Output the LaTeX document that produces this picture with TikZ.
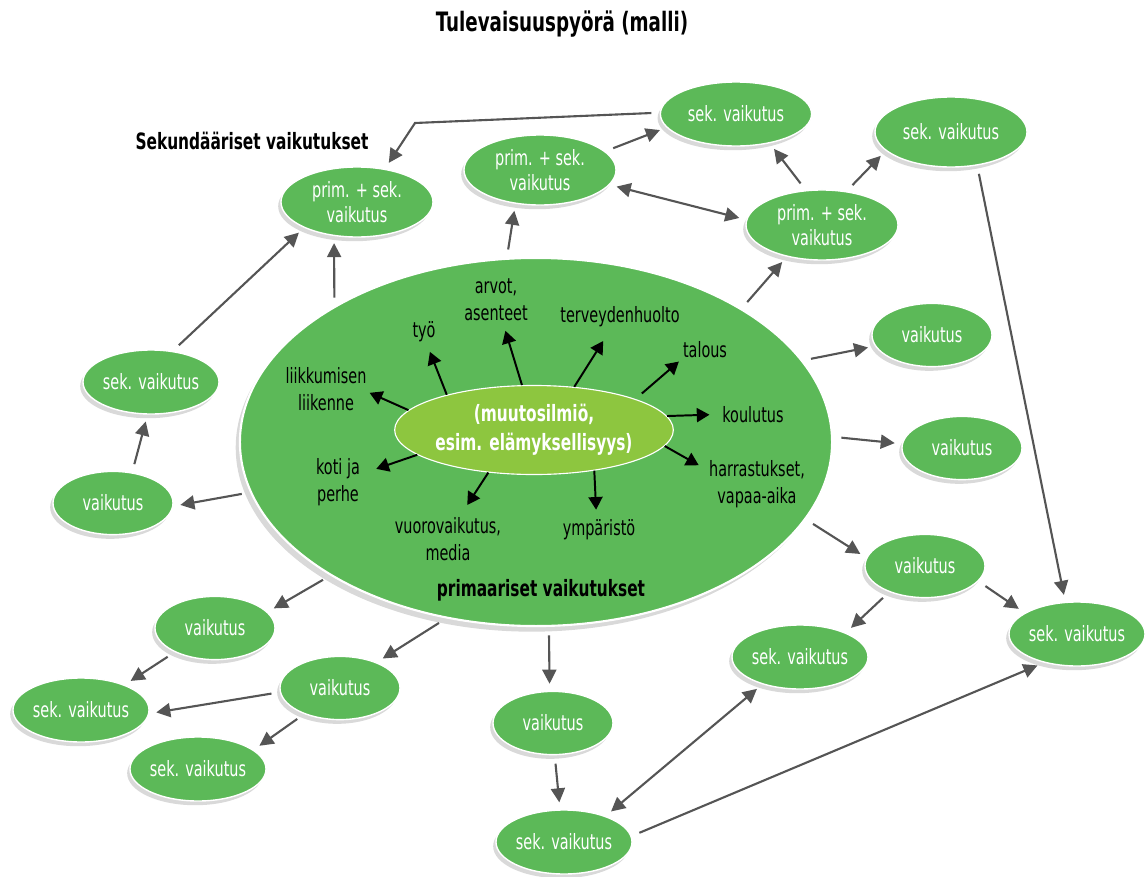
\documentclass[tikz,border=0pt]{standalone}
\usepackage{fontspec}
\setmainfont{DejaVu Sans Condensed}[FakeStretch=0.76,BoldFont={DejaVu Sans Condensed Bold}]
\usetikzlibrary{arrows.meta,shadows,shapes.geometric}
\definecolor{wheelgreen}{RGB}{92,185,88}
\definecolor{coregreen}{RGB}{141,198,63}
\definecolor{arrowgray}{RGB}{85,85,85}
\tikzset{
	bubble/.style={ellipse,fill=wheelgreen,draw=white,line width=1pt,inner sep=0pt,text=white,align=center,
		font=\fontsize{15}{18}\selectfont,drop shadow={shadow xshift=-2pt,shadow yshift=-3pt,opacity=0.3}},
	primsek/.style={bubble,minimum width=3.8cm,minimum height=1.75cm},
	sekbub/.style={bubble,minimum width=3.4cm,minimum height=1.6cm},
	vaikbub/.style={bubble,minimum width=3cm,minimum height=1.58cm},
	field/.style={align=center,inner sep=2pt,font=\fontsize{15}{19}\selectfont},
	heading/.style={font=\bfseries\fontsize{16}{18}\selectfont},
	effect/.style={draw=arrowgray,line width=1.5pt,-{Triangle[length=10pt,width=10pt]},shorten <=6pt,shorten >=5pt},
	mutual/.style={effect,{Triangle[length=10pt,width=10pt]}-{Triangle[length=10pt,width=10pt]},shorten <=5pt},
	spoke/.style={draw=black,line width=1.4pt,-{Triangle[length=9pt,width=10pt]}}
}
\begin{document}
\begin{tikzpicture}[x=0.025cm,y=-0.025cm]
	\useasboundingbox (0,0) rectangle (1145,876);
	\node[font=\bfseries\fontsize{19}{22}\selectfont] (title) at (562,24) {Tulevaisuuspyörä (malli)};
	\node[heading] (seklabel) at (252,141) {Sekundääriset vaikutukset};
	\node[ellipse,fill=wheelgreen,draw=white,line width=1.5pt,minimum width=14.8cm,minimum height=9.2cm,
		drop shadow={shadow xshift=-3pt,shadow yshift=-4pt,opacity=0.3}] (wheel) at (536,442) {};
	\node[ellipse,fill=coregreen,draw=white,line width=0.8pt,minimum width=6.65cm,minimum height=2.225cm,inner sep=0pt,
		text=white,align=center,font=\bfseries\fontsize{16}{20.6}\selectfont] (core) at (534,430) {(muutosilmiö,\\esim. elämyksellisyys)};
	\node[heading] (primlabel) at (541,590) {primaariset vaikutukset};
	\node[field] (liik) at (326,389) {liikkumisen\\liikenne};
	\node[field] (tyo) at (424,332) {työ};
	\node[field] (arvot) at (496,300) {arvot,\\asenteet};
	\node[field] (terv) at (620,317) {terveydenhuolto};
	\node[field] (talous) at (705,350) {talous};
	\node[field] (koul) at (753,415) {koulutus};
	\node[field] (harr) at (757,484) {harrastukset,\\vapaa-aika};
	\node[field] (ymp) at (599,530) {ympäristö};
	\node[field] (vuoro) at (448,539) {vuorovaikutus,\\media};
	\node[field] (koti) at (338,482) {koti ja\\perhe};
	\node[primsek] (p1) at (357,202) {prim. + sek.\\vaikutus};
	\node[primsek] (p2) at (540,170) {prim. + sek.\\vaikutus};
	\node[primsek] (p3) at (822,225) {prim. + sek.\\vaikutus};
	\node[sekbub,minimum width=3.78cm] (s1) at (736,114) {sek. vaikutus};
	\node[sekbub,minimum width=3.8cm,minimum height=1.75cm] (s2) at (951,132) {sek. vaikutus};
	\node[vaikbub] (v1) at (932,335) {vaikutus};
	\node[vaikbub] (v2) at (962,448) {vaikutus};
	\node[vaikbub] (v3) at (925,566) {vaikutus};
	\node[sekbub] (s3) at (1077,634) {sek. vaikutus};
	\node[sekbub] (s4) at (800,657) {sek. vaikutus};
	\node[vaikbub] (v4) at (553,723) {vaikutus};
	\node[sekbub] (s5) at (564,842) {sek. vaikutus};
	\node[vaikbub] (v5) at (215,628) {vaikutus};
	\node[vaikbub] (v6) at (340,688) {vaikutus};
	\node[sekbub] (s6) at (81,710) {sek. vaikutus};
	\node[sekbub] (s7) at (198,769) {sek. vaikutus};
	\node[sekbub] (sl) at (151,382) {sek. vaikutus};
	\node[vaikbub] (vl) at (113,503) {vaikutus};
	\draw[spoke] (core.171.4) -- (liik.-5);
	\draw[spoke,shorten >=5pt] (core.158) -- (tyo.-76);
	\draw[spoke,shorten >=5pt] (core.105) -- (arvot.-73);
	\draw[spoke,shorten >=9pt] (core.47) -- (terv.-127);
	\draw[spoke,shorten <=6pt,shorten >=1pt] (core.17.5) -- (talous.203);
	\draw[spoke,shorten >=7pt] (core.6) -- (koul.179);
	\draw[spoke,shorten >=6pt] (core.-7) -- (harr.164);
	\draw[spoke,shorten >=5pt] (core.-34.5) -- (ymp.101);
	\draw[spoke,shorten >=8pt] (core.-137) -- (vuoro.62);
	\draw[spoke,shorten >=10pt] (core.192) -- (koti.19);
	\draw[effect] (wheel.146.7) -- (p1.236);
	\draw[effect] (sl.55) -- (p1.206);
	\draw[effect] (s1.179) -- (415,123) -- (p1.50);
	\draw[effect] (wheel.99) -- (p2.234);
	\draw[effect] (p2.16) -- (s1.191);
	\draw[mutual] (p2.348) -- (p3.176);
	\draw[effect] (p3.115) -- (s1.319);
	\draw[effect] (p3.54) -- (s2.196);
	\draw[effect] (wheel.33.6) -- (p3.222);
	\draw[effect] (wheel.17) -- (v1.191);
	\draw[effect] (wheel.1.3) -- (v2.176);
	\draw[effect] (wheel.-16.3) -- (v3.172);
	\draw[effect] (s2.-52) -- (s3.110);
	\draw[effect] (v3.-16) -- (s3.158);
	\draw[effect] (v3.-144) -- (s4.28);
	\draw[mutual] (s4.216) -- (s5.32);
	\draw[effect] (s5.5) -- (s3.221);
	\draw[effect] (wheel.-86.5) -- (v4.96);
	\draw[effect] (v4.-87) -- (s5.97);
	\draw[effect] (wheel.-117.4) -- (v6.35);
	\draw[effect] (wheel.-147.7) -- (v5.17);
	\draw[effect] (v5.-149) -- (s6.30);
	\draw[effect] (v6.184) -- (s6.-3);
	\draw[effect] (v6.-144) -- (s7.19);
	\draw[effect] (wheel.190.7) -- (vl.-3);
	\draw[effect] (vl.58) -- (sl.-96);
\end{tikzpicture}
\end{document}
